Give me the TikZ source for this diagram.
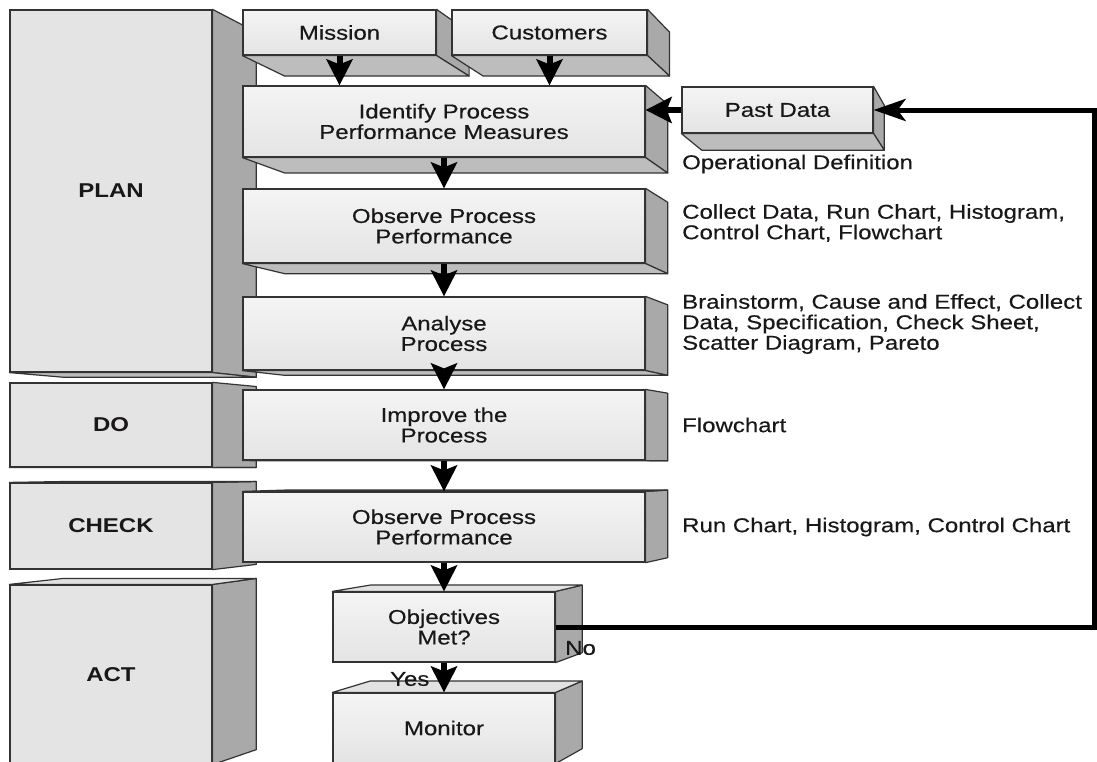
\documentclass[tikz,border=0pt]{standalone}
\usepackage{fontspec}
\setmainfont{Liberation Sans}[FakeStretch=1.2, UprightFeatures={FakeBold=0.4}]
\usetikzlibrary{arrows.meta,calc,positioning}

\definecolor{edge}{HTML}{333333}
\definecolor{ink}{HTML}{1A1718}
\definecolor{sidegray}{HTML}{A9A9A9}
\definecolor{bottomgray}{HTML}{BDBDBD}
\definecolor{topgray}{HTML}{E2E2E2}
\definecolor{phasegray}{HTML}{E4E4E4}

\tikzset{
  txt/.style={text=ink, font=\fontsize{20}{20.5}\selectfont},
  front/.style={txt, draw=edge, line width=1.2pt, top color=white!60!phasegray, bottom color=phasegray,
    minimum width=402pt, minimum height=71pt, inner sep=0pt, align=center},
  phase/.style={txt, draw=edge, line width=1.2pt, fill=phasegray, minimum width=202pt,
    inner sep=0pt, font=\fontsize{20}{20.5}\selectfont\bfseries},
  note/.style={txt, anchor=west, align=left, inner sep=0pt},
  face/.style={draw=edge, line width=1.2pt, line join=round},
  flow/.style={draw=black, line width=6pt, -{Stealth[length=26pt,width=26pt,inset=5pt]}},
  back/.style={draw=black, line width=5pt, line cap=butt, -{Stealth[length=32pt,width=22pt,inset=8pt]}},
}

% depth faces, drawn toward the vanishing point vp
\newcommand{\sideface}[1]{%
  \filldraw[face, fill=sidegray] (#1.north east) -- ($(#1.north east)!0.05!(vp)$)
    -- ($(#1.south east)!0.05!(vp)$) -- (#1.south east) -- cycle;}
\newcommand{\bottomface}[1]{%
  \filldraw[face, fill=bottomgray] (#1.south west) -- ($(#1.south west)!0.05!(vp)$)
    -- ($(#1.south east)!0.05!(vp)$) -- (#1.south east) -- cycle;}
\newcommand{\topface}[1]{%
  \filldraw[face, fill=topgray] (#1.north west) -- ($(#1.north west)!0.05!(vp)$)
    -- ($(#1.north east)!0.05!(vp)$) -- (#1.north east) -- cycle;}

\begin{document}
\begin{tikzpicture}[x=1pt, y=-1pt]
  \useasboundingbox (0,0) rectangle (1097,761);
  \clip (0,0) rectangle (1097,761);
  \coordinate (vp) at (1087,465);

  % phases
  \node[phase, minimum height=362pt] (plan) at (111,191) {PLAN};
  \sideface{plan} \bottomface{plan}
  \node[phase, minimum height=84pt] (do) at (111,425) {DO};
  \sideface{do} \bottomface{do}
  \node[phase, minimum height=86pt] (check) at (111,526) {CHECK};
  \sideface{check} \topface{check}
  \node[phase, minimum height=179pt] (act) at (111,674.5) {ACT};
  \sideface{act} \topface{act}

  % inputs
  \node[front, minimum width=193pt, minimum height=45pt] (mission) at (339.5,32.5) {Mission};
  \sideface{mission} \bottomface{mission}
  \node[front, minimum width=195pt, minimum height=45pt] (customers) at (549.5,32.5) {Customers};
  \sideface{customers} \bottomface{customers}
  \node[front, minimum width=191pt, minimum height=46pt] (pastdata) at (777.5,110) {Past Data};
  \sideface{pastdata} \bottomface{pastdata}

  % process steps
  \node[front] (identify) at (444,121.5) {Identify Process\\Performance Measures};
  \sideface{identify} \bottomface{identify}
  \node[front, minimum height=74pt] (observeA) at (444,226) {Observe Process\\Performance};
  \sideface{observeA} \bottomface{observeA}
  \node[front, minimum height=73pt] (analyse) at (444,333.5) {Analyse\\Process};
  \sideface{analyse} \bottomface{analyse}
  \node[front, minimum height=70pt] (improve) at (444,425) {Improve the\\Process};
  \sideface{improve} \bottomface{improve}
  \node[front, minimum height=70pt] (observeB) at (444,527) {Observe Process\\Performance};
  \sideface{observeB} \topface{observeB}
  \node[front, minimum width=222pt, minimum height=70pt] (objectives) at (444,627) {Objectives\\Met?};
  \sideface{objectives} \topface{objectives}
  \node[front, minimum width=222pt, minimum height=70pt] (monitor) at (444,728) {Monitor};
  \sideface{monitor} \topface{monitor}

  % flow
  \draw[flow] (mission.south) -- (mission.south |- identify.north);
  \draw[flow] (customers.south) -- (customers.south |- identify.north);
  \draw[flow] (pastdata.west) -- (pastdata.west -| identify.east);
  \draw[flow] (identify.south) -- (observeA.north);
  \draw[flow] (observeA.south) -- (analyse.north);
  \draw[flow] (analyse.south) -- (improve.north);
  \draw[flow] (improve.south) -- (observeB.north);
  \draw[flow] (observeB.south) -- (objectives.north);
  \draw[flow] (objectives.south) -- (monitor.north);
  \coordinate (loop) at (1094,627);
  \draw[back] (objectives.east) -- (loop) |- (pastdata.east);

  % tools
  \node[note] (opdef) at (682,164) {Operational Definition};
  \node[note] (toolsA) at (682,223) {Collect Data, Run Chart, Histogram,\\Control Chart, Flowchart};
  \node[note] (toolsB) at (682,324) {Brainstorm, Cause and Effect, Collect\\Data, Specification, Check Sheet,\\Scatter Diagram, Pareto};
  \node[note] (toolsC) at (682,425) {Flowchart};
  \node[note] (toolsD) at (682,527) {Run Chart, Histogram, Control Chart};
  \node[note] (no) at (565,648) {No};
  \node[note] (yes) at (390,679) {Yes};
\end{tikzpicture}
\end{document}
